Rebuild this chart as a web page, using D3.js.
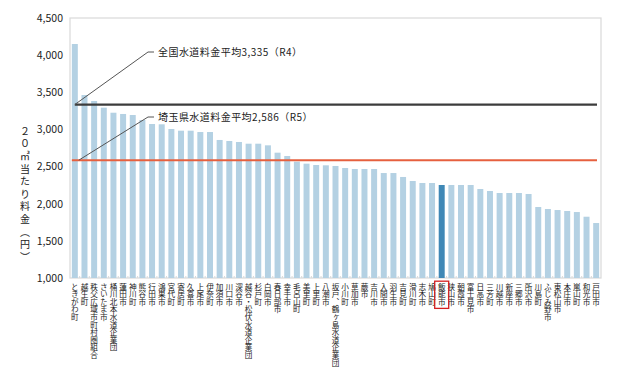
<!DOCTYPE html>
<html><head><meta charset="utf-8">
<script src="https://cdn.jsdelivr.net/npm/d3@7"></script>
<style>
html,body{margin:0;padding:0;background:#fff;}
svg{display:block;font-family:"Noto Sans CJK JP","Noto Sans",sans-serif;}
.vt{writing-mode:vertical-rl;text-orientation:upright;}
</style></head>
<body><svg id="c" width="618" height="380"></svg>
<script>
const categories = ["ときがわ町","越生町","秩父広域市町村圏組合","さいたま市","桶川北本水道企業団","蓮田市","神川町","熊谷市","行田市","鴻巣市","宮代町","寄居町","久喜市","上尾市","伊奈町","加須市","川口市","深谷市","越谷・松伏水道企業団","杉戸町","白岡市","春日部市","幸手市","毛呂山町","美里町","上里町","八潮市","坂戸、鶴ヶ島水道企業団","小川町","草加市","蕨市","吉川市","入間市","羽生市","吉見町","滑川町","志木市","鳩山町","飯能市","狭山市","朝霞市","富士見市","日高市","三芳町","川越市","新座市","三郷市","所沢市","川島町","ふじみ野市","東松山市","本庄市","嵐山町","和光市","戸田市"];
const values = [4150,3463,3383,3293,3225,3208,3194,3127,3073,3069,3006,2983,2983,2965,2965,2858,2844,2831,2808,2808,2786,2687,2642,2566,2539,2521,2517,2508,2481,2467,2467,2467,2413,2413,2360,2306,2279,2279,2252,2252,2252,2252,2198,2171,2144,2144,2144,2131,1956,1929,1915,1902,1888,1825,1740];
const yTicks = [1000,1500,2000,2500,3000,3500,4000,4500];
const nationalAvg = 3335;
const prefAvg = 2586;
const nationalLabel = "全国水道料金平均3,335（R4）";
const prefLabel = "埼玉県水道料金平均2,586（R5）";
const highlight = "飯能市";
const yTitleParts = ["２０", "㎥", "当たり料金（円）"];

const svg = d3.select("#c");
const L = 70, R = 601, T = 18, B = 278;
const x = d3.scaleBand().domain(categories).range([L, R]).paddingInner(0.38).paddingOuter(0.19);
const y = d3.scaleLinear().domain([1000, 4500]).range([B, T]);

// frame
svg.append("rect").attr("x", L).attr("y", T).attr("width", R - L).attr("height", B - T)
  .attr("fill", "none").attr("stroke", "#d9d9d9").attr("stroke-width", 1.2);

// small ticks between bars
svg.append("g").selectAll("line").data(categories.slice(1)).join("line")
  .attr("x1", d => x(d) - x.step() * x.paddingInner() / 2).attr("x2", d => x(d) - x.step() * x.paddingInner() / 2)
  .attr("y1", B).attr("y2", B - 2).attr("stroke", "#d9d9d9");

// bars
svg.append("g").selectAll("rect").data(categories).join("rect")
  .attr("x", d => x(d)).attr("width", x.bandwidth())
  .attr("y", (d, i) => y(values[i])).attr("height", (d, i) => B - y(values[i]))
  .attr("fill", d => d === highlight ? "#3f88b6" : "#b4d1e3");

// y axis
const ya = d3.axisLeft(y).tickValues(yTicks).tickSize(0).tickPadding(7).tickFormat(d3.format(","));
const yg = svg.append("g").attr("transform", `translate(${L},0)`).call(ya);
yg.select(".domain").remove();
yg.selectAll("text").attr("font-size", 10.5).attr("fill", "#222").attr("font-family", "'Noto Sans CJK JP',sans-serif");

// average lines
svg.append("line").attr("x1", x(categories[0]) + x.bandwidth() / 2).attr("x2", R - 4)
  .attr("y1", y(nationalAvg)).attr("y2", y(nationalAvg)).attr("stroke", "#3c3c3c").attr("stroke-width", 2.2);
svg.append("line").attr("x1", x(categories[0])).attr("x2", R - 4)
  .attr("y1", y(prefAvg)).attr("y2", y(prefAvg)).attr("stroke", "#e6603f").attr("stroke-width", 2);

// leader lines and labels
function leader(x0, y0, x1, y1, text) {
  svg.append("polyline").attr("points", `${x0},${y0} ${x1},${y1} ${x1 + 6},${y1}`)
    .attr("fill", "none").attr("stroke", "#555").attr("stroke-width", 1);
  svg.append("text").attr("x", x1 + 10).attr("y", y1).attr("dy", "0.35em")
    .attr("font-size", 10).attr("letter-spacing", 0.45).attr("fill", "#222").text(text);
}
const cx0 = x(categories[0]) + x.bandwidth() / 2;
leader(cx0, y(nationalAvg), 148, 52, nationalLabel);
leader(cx0 + 4, y(prefAvg), 148, 117, prefLabel);

// category labels
const lg = svg.append("g");
lg.selectAll("text").data(categories).join("text")
  .attr("class", "vt")
  .attr("x", d => x(d) + x.bandwidth() / 2).attr("y", 283)
  .attr("font-size", 7.6).attr("fill", "#222").text(d => d);
lg.selectAll("text").filter(d => d === highlight).each(function () {
  const b = this.getBBox();
  lg.append("rect").attr("x", b.x - 1.5).attr("y", b.y - 1.5).attr("width", b.width + 3).attr("height", b.height + 3)
    .attr("fill", "none").attr("stroke", "#d42020").attr("stroke-width", 1.3);
});

// y title
const pitch = 12.6, tx = 25, ty0 = 126;
svg.append("text").attr("class", "vt").attr("x", tx).attr("y", ty0)
  .attr("font-size", 10).attr("letter-spacing", pitch - 10).attr("fill", "#222").text(yTitleParts[0]);
svg.append("text").attr("x", tx).attr("y", ty0 + 2 * pitch + 5).attr("dy", "0.35em").attr("text-anchor", "middle")
  .attr("font-size", 10).attr("fill", "#222").text(yTitleParts[1]);
svg.append("text").attr("class", "vt").attr("x", tx).attr("y", ty0 + 3 * pitch)
  .attr("font-size", 10).attr("letter-spacing", pitch - 10).attr("fill", "#222").text(yTitleParts[2]);
</script></body></html>
